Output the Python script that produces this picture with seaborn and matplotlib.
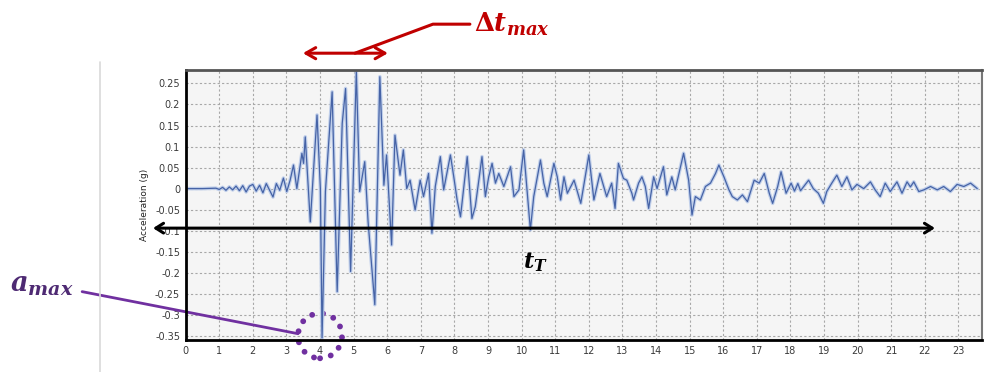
import matplotlib
matplotlib.use('Agg')
import matplotlib.pyplot as plt
from matplotlib.lines import Line2D
from matplotlib.patches import Ellipse
import seaborn as sns
import pandas as pd

# ---- data ----
time_s = [0.0, 0.5, 0.9, 1.0, 1.1, 1.2, 1.3, 1.4, 1.5, 1.6, 1.7, 1.8, 1.9, 2.0, 2.1,
          2.2, 2.3, 2.4, 2.5, 2.6, 2.7, 2.8, 2.91, 3.01, 3.11, 3.21, 3.31, 3.46, 3.51,
          3.56, 3.71, 3.91, 4.01, 4.06, 4.16, 4.36, 4.51, 4.66, 4.76, 4.91, 5.08, 5.18,
          5.33, 5.43, 5.63, 5.78, 5.90, 5.98, 6.13, 6.23, 6.38, 6.48, 6.58, 6.68, 6.83,
          6.98, 7.08, 7.23, 7.33, 7.43, 7.58, 7.68, 7.88, 7.98, 8.08, 8.18, 8.38, 8.52,
          8.62, 8.82, 8.92, 9.02, 9.12, 9.22, 9.32, 9.47, 9.67, 9.77, 9.92, 10.06, 10.16,
          10.26, 10.36, 10.56, 10.66, 10.76, 10.96, 11.06, 11.16, 11.26, 11.36, 11.56,
          11.76, 12.0, 12.15, 12.33, 12.53, 12.68, 12.78, 12.88, 13.03, 13.13, 13.28,
          13.33, 13.48, 13.58, 13.68, 13.78, 13.93, 14.03, 14.22, 14.32, 14.47, 14.57,
          14.82, 14.97, 15.07, 15.17, 15.32, 15.47, 15.62, 15.77, 15.87, 16.02, 16.17,
          16.27, 16.42, 16.57, 16.72, 16.92, 17.07, 17.22, 17.37, 17.47, 17.62, 17.72,
          17.87, 18.02, 18.12, 18.22, 18.3, 18.54, 18.68, 18.83, 18.98, 19.08, 19.23,
          19.38, 19.53, 19.68, 19.83, 19.98, 20.18, 20.38, 20.52, 20.67, 20.82, 20.97,
          21.17, 21.32, 21.47, 21.57, 21.67, 21.82, 21.97, 22.17, 22.37, 22.56, 22.76,
          22.96, 23.16, 23.36, 23.56]
accel_g = [0.0, 0.0, 0.001, -0.002, 0.003, -0.004, 0.004, -0.003, 0.006, -0.005, 0.007,
           -0.008, 0.006, 0.010, -0.006, 0.008, -0.010, 0.012, -0.004, -0.020, 0.012,
           -0.004, 0.025, -0.007, 0.020, 0.056, 0.0, 0.084, 0.060, 0.123, -0.079, 0.175,
           0.0, -0.355, -0.007, 0.230, -0.245, 0.155, 0.238, -0.197, 0.278, -0.007, 0.064,
           -0.079, -0.276, 0.266, 0.008, 0.080, -0.134, 0.127, 0.032, 0.092, 0.0, 0.020,
           -0.051, 0.020, -0.019, 0.036, -0.106, 0.005, 0.076, -0.003, 0.080, 0.028,
           -0.027, -0.067, 0.076, -0.071, -0.043, 0.076, -0.019, 0.028, 0.060, 0.013,
           0.036, 0.005, 0.052, -0.019, -0.003, 0.092, -0.003, -0.098, -0.019, 0.068,
           0.013, -0.019, 0.060, 0.028, -0.027, 0.028, -0.011, 0.020, -0.035, 0.080,
           -0.027, 0.036, -0.019, 0.013, -0.047, 0.060, 0.024, 0.020, -0.011, -0.027,
           0.013, 0.028, 0.005, -0.047, 0.028, 0.0, 0.052, -0.015, 0.028, -0.003, 0.084,
           0.020, -0.063, -0.019, -0.027, 0.005, 0.013, 0.036, 0.056, 0.028, -0.003,
           -0.019, -0.027, -0.015, -0.031, 0.020, 0.013, 0.036, -0.011, -0.035, 0.005,
           0.040, -0.011, 0.013, -0.006, 0.012, -0.005, 0.020, 0.0, -0.011, -0.035,
           -0.007, 0.013, 0.032, 0.005, 0.028, -0.003, 0.010, 0.0, 0.016, -0.003, -0.019,
           0.013, -0.007, 0.016, -0.011, 0.016, 0.004, 0.016, -0.007, -0.003, 0.005,
           -0.003, 0.005, -0.007, 0.010, 0.005, 0.013, 0.0]
x_ticks = list(range(0, 24))
y_ticks = [0.25, 0.2, 0.15, 0.1, 0.05, 0.0, -0.05, -0.1, -0.15, -0.2, -0.25, -0.3, -0.35]
y_tick_labels = ['0.25', '0.2', '0.15', '0.1', '0.05', '0', '-0.05', '-0.1', '-0.15',
                 '-0.2', '-0.25', '-0.3', '-0.35']

sns.set_style('white')
plt.rcParams['font.family'] = ['DejaVu Sans']
plt.rcParams['mathtext.fontset'] = 'dejavuserif'

fig = plt.figure(figsize=(9.89, 3.72), dpi=100)
fig.patch.set_facecolor('white')
ax = fig.add_axes([0.1877, 0.0860, 0.8052, 0.7258])
ax.set_facecolor('#f5f5f5')

df = pd.DataFrame({'t': time_s, 'a': accel_g})
sns.lineplot(data=df, x='t', y='a', ax=ax, color='#c0cfea', lw=2.6,
             sort=False, estimator=None)
sns.lineplot(data=df, x='t', y='a', ax=ax, color='#4663a6', lw=0.9,
             sort=False, estimator=None)

ax.set_xlim(0, 23.7)
ax.set_ylim(-0.36, 0.282)
ax.set_xticks(x_ticks)
ax.set_yticks(y_ticks)
ax.set_yticklabels(y_tick_labels)
ax.grid(True, color='#a8a8a8', ls=(0, (2, 2)), lw=0.8)
ax.tick_params(labelsize=7, length=0, pad=4, colors='#3a3a3a')
ax.set_xlabel('')
ax.set_ylabel('Acceleration (g)', fontsize=6.5, labelpad=4, color='#222222')

for side in ['left', 'bottom']:
    ax.spines[side].set_color('black')
    ax.spines[side].set_linewidth(2)
ax.spines['top'].set_color('#555555')
ax.spines['top'].set_linewidth(2)
ax.spines['right'].set_color('#777777')
ax.spines['right'].set_linewidth(1.5)

# window edge of the screenshot
fig.add_artist(Line2D([100 / 989, 100 / 989], [0, 1 - 62 / 372],
                      transform=fig.transFigure, color='#d9d9d9', lw=1.2))

red = '#c00000'
purple = '#7030a0'

# delta t max
ax.annotate('', xy=(3.49, 0.322), xytext=(6.02, 0.322),
            arrowprops=dict(arrowstyle='<->,head_length=0.7,head_width=0.4',
                            color=red, lw=2.2, shrinkA=0, shrinkB=0),
            annotation_clip=False)
ax.plot([5.04, 7.36, 8.46], [0.322, 0.391, 0.391], color=red, lw=2.2, clip_on=False)
ax.text(8.58, 0.391, r'$\mathbf{\Delta}\mathbfit{t}_{\mathbfit{max}}$', color=red,
        fontsize=18.5, ha='left', va='center', clip_on=False)

# total duration
ax.annotate('', xy=(22.3, -0.094), xytext=(-0.97, -0.094),
            arrowprops=dict(arrowstyle='<->,head_length=0.55,head_width=0.35',
                            color='black', lw=2.2, shrinkA=0, shrinkB=0),
            annotation_clip=False)
ax.text(10.4, -0.175, r'$\mathbfit{t}_{\mathbfit{T}}$', fontsize=16,
        ha='center', va='center', color='black')

# a max
ax.plot([-3.08, 3.345], [-0.245, -0.345], color=purple, lw=2, clip_on=False)
ell = Ellipse((4.0, -0.35), width=1.31, height=0.107, fill=False, edgecolor=purple,
              lw=4.2, linestyle=(0, (0.01, 1.9)), capstyle='round', clip_on=False)
ax.add_patch(ell)
ax.text(-5.23, -0.229, r'$\mathbfit{a}_{\mathbfit{max}}$', color='#4e2a73',
        fontsize=19.5, ha='left', va='center', clip_on=False)

fig.savefig('out.png', dpi=100)
